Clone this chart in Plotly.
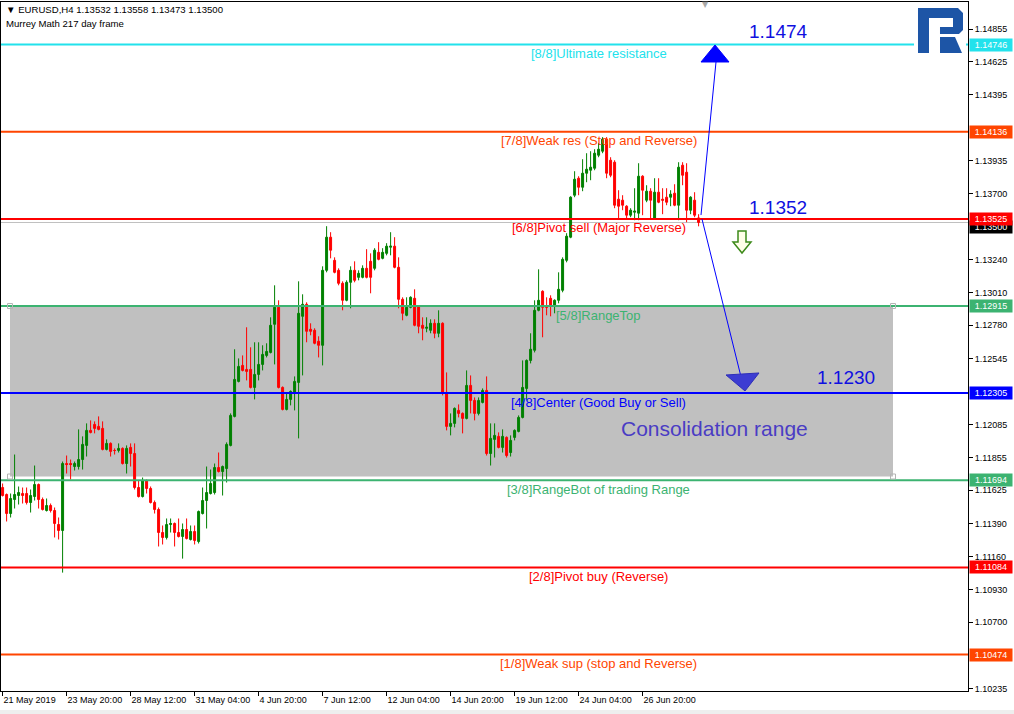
import plotly.graph_objects as go

# ---------------- data ----------------
symbol = "EURUSD,H4"
subtitle = "Murrey Math 217 day frame"

opens = [1.11644, 1.11595, 1.11462, 1.11560, 1.11588, 1.11602, 1.11602, 1.11539, 1.11581, 1.11665,
         1.11560, 1.11483, 1.11518, 1.11483, 1.11385, 1.11343, 1.11812, 1.11812, 1.11791, 1.11791,
         1.11840, 1.11939, 1.12044, 1.12086, 1.12072, 1.12058, 1.11911, 1.11953, 1.11904, 1.11904,
         1.11918, 1.11812, 1.11925, 1.11882, 1.11644, 1.11581, 1.11693, 1.11637, 1.11539, 1.11490,
         1.11329, 1.11294, 1.11385, 1.11392, 1.11329, 1.11301, 1.11350, 1.11280, 1.11336, 1.11266,
         1.11462, 1.11553, 1.11602, 1.11609, 1.11784, 1.11756, 1.11777, 1.11939, 1.12142, 1.12387,
         1.12499, 1.12471, 1.12471, 1.12345, 1.12436, 1.12506, 1.12569, 1.12590, 1.12787, 1.12906,
         1.12345, 1.12191, 1.12261, 1.12310, 1.12380, 1.12843, 1.12927, 1.12752, 1.12745, 1.12668,
         1.12640, 1.13165, 1.13397, 1.13235, 1.13165, 1.13074, 1.12955, 1.13081, 1.13165, 1.13116,
         1.13116, 1.13179, 1.13228, 1.13179, 1.13291, 1.13249, 1.13284, 1.13327, 1.13334, 1.13186,
         1.12962, 1.12850, 1.12906, 1.12969, 1.12913, 1.12780, 1.12759, 1.12745, 1.12794, 1.12724,
         1.12794, 1.12310, 1.12072, 1.12093, 1.12184, 1.12163, 1.12128, 1.12359, 1.12254, 1.12163,
         1.12240, 1.12324, 1.11882, 1.11981, 1.12002, 1.11925, 1.11995, 1.11889, 1.11995, 1.12037,
         1.12135, 1.12338, 1.12534, 1.12605, 1.12885, 1.13018, 1.12913, 1.12969, 1.12913, 1.12955,
         1.13025, 1.13235, 1.13397, 1.13691, 1.13810, 1.13747, 1.13845, 1.13866, 1.13880, 1.13971,
         1.13999, 1.14084, 1.13936, 1.13922, 1.13663, 1.13656, 1.13614, 1.13551, 1.13572, 1.13565,
         1.13824, 1.13656, 1.13719, 1.13530, 1.13712, 1.13663, 1.13677, 1.13677, 1.13705, 1.13621,
         1.13901, 1.13852, 1.13586, 1.13656, 1.13532]
highs = [1.11672, 1.11602, 1.11602, 1.11875, 1.11651, 1.11644, 1.11644, 1.11630, 1.11798, 1.11672,
         1.11574, 1.11567, 1.11532, 1.11504, 1.11434, 1.11826, 1.11868, 1.11840, 1.11826, 1.12051,
         1.12002, 1.12093, 1.12114, 1.12107, 1.12142, 1.12107, 1.11981, 1.11960, 1.11918, 1.11953,
         1.11925, 1.11939, 1.11953, 1.11953, 1.11693, 1.11714, 1.11700, 1.11651, 1.11553, 1.11504,
         1.11378, 1.11427, 1.11427, 1.11399, 1.11427, 1.11392, 1.11427, 1.11378, 1.11378, 1.11483,
         1.11644, 1.11791, 1.11770, 1.11812, 1.11889, 1.11798, 1.11960, 1.12163, 1.12612, 1.12548,
         1.12569, 1.12766, 1.12626, 1.12661, 1.12661, 1.12640, 1.12654, 1.12836, 1.13060, 1.12955,
         1.12352, 1.12310, 1.12324, 1.12422, 1.13088, 1.12997, 1.12941, 1.12794, 1.12759, 1.12703,
         1.13193, 1.13474, 1.13432, 1.13256, 1.13179, 1.13088, 1.13095, 1.13193, 1.13228, 1.13165,
         1.13200, 1.13313, 1.13284, 1.13320, 1.13362, 1.13320, 1.13355, 1.13432, 1.13397, 1.13256,
         1.12976, 1.12976, 1.12983, 1.13032, 1.12920, 1.12836, 1.12836, 1.12822, 1.12822, 1.12885,
         1.12801, 1.12450, 1.12163, 1.12205, 1.12226, 1.12170, 1.12464, 1.12429, 1.12275, 1.12275,
         1.12338, 1.12422, 1.12093, 1.12093, 1.12030, 1.12051, 1.12002, 1.12009, 1.12051, 1.12149,
         1.12534, 1.12541, 1.12724, 1.12955, 1.13172, 1.13025, 1.12976, 1.12990, 1.12962, 1.13151,
         1.13256, 1.13425, 1.13684, 1.13859, 1.13824, 1.13943, 1.13985, 1.13999, 1.14013, 1.14055,
         1.14098, 1.14098, 1.13957, 1.13936, 1.13726, 1.13691, 1.13621, 1.13600, 1.13740, 1.13915,
         1.13831, 1.13761, 1.13740, 1.13810, 1.13810, 1.13740, 1.13740, 1.13726, 1.13768, 1.13922,
         1.13922, 1.13915, 1.13684, 1.13712, 1.13558]
lows = [1.11581, 1.11406, 1.11434, 1.11497, 1.11525, 1.11532, 1.11525, 1.11469, 1.11553, 1.11497,
        1.11483, 1.11476, 1.11469, 1.11294, 1.11280, 1.11048, 1.11742, 1.11700, 1.11763, 1.11770,
        1.11770, 1.11861, 1.12023, 1.12023, 1.12044, 1.11904, 1.11904, 1.11861, 1.11875, 1.11889,
        1.11805, 1.11742, 1.11791, 1.11630, 1.11574, 1.11574, 1.11602, 1.11532, 1.11462, 1.11231,
        1.11245, 1.11280, 1.11329, 1.11231, 1.11294, 1.11146, 1.11280, 1.11273, 1.11245, 1.11252,
        1.11455, 1.11357, 1.11595, 1.11595, 1.11749, 1.11588, 1.11679, 1.11932, 1.12135, 1.12380,
        1.12457, 1.12394, 1.12338, 1.12261, 1.12394, 1.12464, 1.12555, 1.12583, 1.12506, 1.12338,
        1.12184, 1.12184, 1.12219, 1.12184, 1.11988, 1.12429, 1.12661, 1.12710, 1.12647, 1.12555,
        1.12499, 1.13151, 1.13249, 1.13144, 1.13060, 1.12885, 1.12948, 1.12899, 1.13081, 1.13095,
        1.13109, 1.13109, 1.13004, 1.13165, 1.13235, 1.13242, 1.13270, 1.13270, 1.13179, 1.12899,
        1.12815, 1.12843, 1.12899, 1.12773, 1.12724, 1.12675, 1.12731, 1.12724, 1.12689, 1.12696,
        1.12289, 1.12044, 1.12009, 1.12065, 1.12135, 1.12023, 1.12121, 1.12163, 1.12114, 1.12149,
        1.12233, 1.11868, 1.11798, 1.11854, 1.11918, 1.11889, 1.11854, 1.11861, 1.11974, 1.12030,
        1.12128, 1.12254, 1.12513, 1.12590, 1.12878, 1.12696, 1.12850, 1.12843, 1.12864, 1.12934,
        1.13011, 1.13221, 1.13390, 1.13677, 1.13691, 1.13719, 1.13782, 1.13796, 1.13866, 1.13957,
        1.13985, 1.13810, 1.13817, 1.13600, 1.13523, 1.13586, 1.13530, 1.13537, 1.13516, 1.13516,
        1.13551, 1.13642, 1.13530, 1.13523, 1.13635, 1.13558, 1.13621, 1.13614, 1.13614, 1.13516,
        1.13761, 1.13502, 1.13558, 1.13537, 1.13473]
closes = [1.11588, 1.11462, 1.11567, 1.11595, 1.11609, 1.11588, 1.11539, 1.11588, 1.11665, 1.11560,
          1.11490, 1.11518, 1.11483, 1.11392, 1.11343, 1.11812, 1.11805, 1.11805, 1.11812, 1.11840,
          1.11946, 1.12044, 1.12030, 1.12058, 1.12051, 1.11911, 1.11953, 1.11897, 1.11903, 1.11918,
          1.11812, 1.11918, 1.11882, 1.11644, 1.11581, 1.11693, 1.11637, 1.11539, 1.11490, 1.11329,
          1.11294, 1.11385, 1.11392, 1.11329, 1.11301, 1.11350, 1.11287, 1.11336, 1.11273, 1.11476,
          1.11553, 1.11609, 1.11672, 1.11784, 1.11756, 1.11791, 1.11946, 1.12149, 1.12401, 1.12492,
          1.12464, 1.12457, 1.12345, 1.12436, 1.12506, 1.12576, 1.12597, 1.12780, 1.12906, 1.12345,
          1.12191, 1.12261, 1.12317, 1.12387, 1.12864, 1.12927, 1.12738, 1.12738, 1.12654, 1.12640,
          1.13165, 1.13397, 1.13306, 1.13151, 1.13074, 1.12955, 1.13081, 1.13165, 1.13095, 1.13144,
          1.13179, 1.13116, 1.13116, 1.13306, 1.13242, 1.13291, 1.13334, 1.13334, 1.13186, 1.12962,
          1.12864, 1.12906, 1.12976, 1.12780, 1.12773, 1.12759, 1.12766, 1.12794, 1.12724, 1.12794,
          1.12310, 1.12072, 1.12093, 1.12198, 1.12163, 1.12128, 1.12359, 1.12254, 1.12163, 1.12254,
          1.12324, 1.11882, 1.11988, 1.12009, 1.11925, 1.12002, 1.11868, 1.11974, 1.12044, 1.12135,
          1.12345, 1.12534, 1.12612, 1.12885, 1.12955, 1.12906, 1.12906, 1.12913, 1.12955, 1.13032,
          1.13242, 1.13404, 1.13677, 1.13803, 1.13747, 1.13845, 1.13873, 1.13887, 1.13985, 1.14013,
          1.14084, 1.13845, 1.13831, 1.13621, 1.13614, 1.13621, 1.13551, 1.13586, 1.13579, 1.13824,
          1.13726, 1.13719, 1.13656, 1.13712, 1.13642, 1.13656, 1.13642, 1.13698, 1.13621, 1.13887,
          1.13831, 1.13586, 1.13677, 1.13551, 1.13500]

x_tick_bars = [0, 16, 32, 48, 64, 80, 96, 112, 128, 144, 160]
x_tick_labels = ["21 May 2019", "23 May 20:00", "28 May 12:00", "31 May 04:00", "4 Jun 20:00",
                 "7 Jun 12:00", "12 Jun 04:00", "14 Jun 20:00", "19 Jun 12:00", "24 Jun 04:00",
                 "26 Jun 20:00"]
y_tick_vals = [1.14855, 1.14625, 1.14395, 1.13935, 1.13700, 1.13240, 1.13010, 1.12780, 1.12545,
               1.12085, 1.11855, 1.11625, 1.11390, 1.11160, 1.10930, 1.10700, 1.10235]

mm_levels = [1.14746, 1.14136, 1.13525, 1.12915, 1.12305, 1.11694, 1.11084, 1.10474]
mm_names = ["[8/8]Ultimate resistance", "[7/8]Weak res (Stop and Reverse)",
            "[6/8]Pivot sell (Major Reverse)", "[5/8]RangeTop", "[4/8]Center (Good Buy or Sell)",
            "[3/8]RangeBot of trading Range", "[2/8]Pivot buy (Reverse)",
            "[1/8]Weak sup (stop and Reverse)"]
mm_colors = ["#22E2EC", "#FF4500", "#FF0000", "#3CB371", "#0000FF", "#3CB371", "#FF0000", "#FF4500"]

consol_top = 1.12915
consol_bottom = 1.11721
consol_start_bar = 1.85
consol_end_bar = 222.6

target_texts = ["1.1474", "1.1352", "1.1230"]
target_levels = [1.14746, 1.13525, 1.12305]
consol_label = "Consolidation range"

# ---------------- layout helpers ----------------
W, H = 1014, 714
ML, MR, MT, MB = 1, 46, 2, 23
PW, PH = W - ML - MR, H - MT - MB
X_RANGE = [-0.4, -0.4 + PW / 4.0]
Y_RANGE = [1.102189, 1.150441]
FONT = "Liberation Sans, Arial, sans-serif"


def pxx(px):
    return (px - ML) / PW


def pxy(py):
    return 1 - (py - MT) / PH


def ppath(points):
    s = "M " + " L ".join(f"{pxx(a):.5f},{pxy(b):.5f}" for a, b in points) + " Z"
    return s


idx = list(range(len(opens)))
fig = go.Figure()
fig.add_trace(go.Candlestick(
    x=idx, open=opens, high=highs, low=lows, close=closes,
    increasing=dict(line=dict(color="#008000", width=1), fillcolor="#008000"),
    decreasing=dict(line=dict(color="#FF0000", width=1), fillcolor="#FF0000"),
    whiskerwidth=0, showlegend=False, hoverinfo="skip"))

shapes = []
# consolidation rectangle
shapes.append(dict(type="rect", xref="x", yref="y", x0=consol_start_bar, x1=consol_end_bar,
                   y0=consol_bottom, y1=consol_top, fillcolor="#C0C0C0", line=dict(width=0),
                   layer="below"))
# bid line
shapes.append(dict(type="line", xref="paper", yref="y", x0=0, x1=1, y0=closes[-1], y1=closes[-1],
                   line=dict(color="#C0C0C0", width=1), layer="below"))
# Murrey levels
for lv, col in zip(mm_levels, mm_colors):
    shapes.append(dict(type="line", xref="paper", yref="y", x0=0, x1=1, y0=lv, y1=lv,
                       line=dict(color=col, width=2), layer="above"))
# rectangle anchor squares
for xa in (consol_start_bar, consol_end_bar):
    for ya in (consol_top, consol_bottom):
        shapes.append(dict(type="rect", xref="x", yref="y", xsizemode="pixel", ysizemode="pixel",
                           xanchor=xa, yanchor=ya, x0=-2.5, x1=2.5, y0=-2.5, y1=2.5,
                           line=dict(color="#B4B4B4", width=1), fillcolor="rgba(0,0,0,0)",
                           layer="above"))
# forecast arrows (lines + heads)
shapes.append(dict(type="line", xref="x", yref="y", x0=174.6, y0=1.13552, x1=178.35, y1=1.14624,
                   line=dict(color="#0000FF", width=1)))
shapes.append(dict(type="path", xref="x", yref="y", xsizemode="pixel", ysizemode="pixel",
                   xanchor=178.1, yanchor=1.14743, path="M -14,-17 L 14,-17 L 0,0 Z",
                   fillcolor="#0000FF", line=dict(color="#0000FF", width=1)))
shapes.append(dict(type="line", xref="x", yref="y", x0=174.85, y0=1.13524, x1=185.35, y1=1.12334,
                   line=dict(color="#0000FF", width=1)))
shapes.append(dict(type="path", xref="x", yref="y", xsizemode="pixel", ysizemode="pixel",
                   xanchor=185.6, yanchor=1.12320, path="M -19,16 L 14,18 L 0,0 Z",
                   fillcolor="#3C3CD2", line=dict(color="#2E2EB8", width=1)))
# hollow down arrow
shapes.append(dict(type="path", xref="x", yref="y", xsizemode="pixel", ysizemode="pixel",
                   xanchor=184.85, yanchor=1.13363,
                   path="M -4,11 L 4,11 L 4,0 L 9,0 L 0,-11 L -9,0 L -4,0 Z",
                   fillcolor="#FFFFE8", line=dict(color="#3D8A1A", width=1.5)))
# logo (white backing + blue R)
shapes.append(dict(type="rect", xref="paper", yref="paper", x0=pxx(914), x1=pxx(966),
                   y0=pxy(57), y1=pxy(4), fillcolor="white", line=dict(width=0), layer="above"))
shapes.append(dict(type="path", xref="paper", yref="paper",
                   path=ppath([(918, 8), (958, 8), (963, 13), (963, 30), (959, 34), (940, 34),
                               (940, 27), (953, 27), (953, 18), (929, 18), (929, 53), (918, 53)]),
                   fillcolor="#1D55A6", line=dict(width=0), layer="above"))
shapes.append(dict(type="path", xref="paper", yref="paper",
                   path=ppath([(940, 37), (955, 37), (962, 53), (940, 53)]),
                   fillcolor="#1D55A6", line=dict(width=0), layer="above"))
# status strip at bottom
shapes.append(dict(type="rect", xref="paper", yref="paper", x0=pxx(0), x1=pxx(W),
                   y0=pxy(714), y1=pxy(710), fillcolor="#EEEEEE", line=dict(width=0)))

ann = []
# level texts
for lv, nm, col in zip(mm_levels, mm_names, mm_colors):
    ann.append(dict(x=149, y=lv, xref="x", yref="y", text=nm, showarrow=False, yshift=-9,
                    font=dict(family=FONT, size=13, color=col), xanchor="center", yanchor="middle"))
# price boxes on axis
ann.append(dict(x=1, xref="paper", y=closes[-1], yref="y", xanchor="left", xshift=1, yshift=-5,
                text=f"{closes[-1]:.5f}", showarrow=False, bgcolor="#000000", width=40,
                font=dict(family=FONT, size=9, color="white"), borderpad=1))
for lv, col in zip(mm_levels, mm_colors):
    ann.append(dict(x=1, xref="paper", y=lv, yref="y", xanchor="left", xshift=1,
                    text=f"{lv:.5f}", showarrow=False, bgcolor=col, width=40,
                    font=dict(family=FONT, size=9, color="white"), borderpad=1))
# header
ann.append(dict(x=pxx(4), y=pxy(10), xref="paper", yref="paper", xanchor="left", yanchor="middle",
                text=f"\u25BC {symbol} {opens[-1]:.5f} {highs[-1]:.5f} {lows[-1]:.5f} {closes[-1]:.5f}",
                showarrow=False, font=dict(family=FONT, size=9.6, color="black")))
ann.append(dict(x=pxx(4), y=pxy(23), xref="paper", yref="paper", xanchor="left", yanchor="middle",
                text=subtitle, showarrow=False, font=dict(family=FONT, size=9.6, color="black")))
# target values
tx_pos = [193.85, 193.85, 210.85]
ty_shift = [13, 11, 16]
for t, lv, xb, ys in zip(target_texts, target_levels, tx_pos, ty_shift):
    ann.append(dict(x=xb, y=lv, xref="x", yref="y", text=t, showarrow=False, yshift=ys,
                    font=dict(family=FONT, size=19, color="#1010E0"), xanchor="center",
                    yanchor="middle"))
ann.append(dict(x=177.85, y=1.12054, xref="x", yref="y", text=consol_label, showarrow=False,
                font=dict(family=FONT, size=21, color="#4A3CC4"), xanchor="center",
                yanchor="middle"))
# chart-shift marker
ann.append(dict(x=pxx(705), y=pxy(4), xref="paper", yref="paper", text="\u25BC", showarrow=False,
                font=dict(family="DejaVu Sans", size=8, color="#A8A8A8"), xanchor="center",
                yanchor="middle"))

fig.update_layout(
    width=W, height=H, margin=dict(l=ML, r=MR, t=MT, b=MB, pad=0),
    paper_bgcolor="white", plot_bgcolor="white", showlegend=False,
    shapes=shapes, annotations=ann,
    xaxis=dict(range=X_RANGE, showgrid=False, zeroline=False, showline=True, linecolor="black",
               linewidth=1, mirror=True, ticks="outside", ticklen=4, tickcolor="black",
               tickvals=x_tick_bars, ticktext=x_tick_labels, ticklabelposition="outside right",
               tickfont=dict(family=FONT, size=9, color="black"), rangeslider=dict(visible=False),
               automargin=False, fixedrange=True),
    yaxis=dict(range=Y_RANGE, side="right", showgrid=False, zeroline=False, showline=True,
               linecolor="black", linewidth=1, mirror=True, ticks="outside", ticklen=4,
               tickcolor="black", tickvals=y_tick_vals, ticktext=[f"{v:.5f}" for v in y_tick_vals],
               tickfont=dict(family=FONT, size=9, color="black"), automargin=False,
               fixedrange=True),
)

fig.write_html("out.html", config={"displayModeBar": False},
               post_script="document.body.style.margin='0px';document.body.style.overflow='hidden';")
